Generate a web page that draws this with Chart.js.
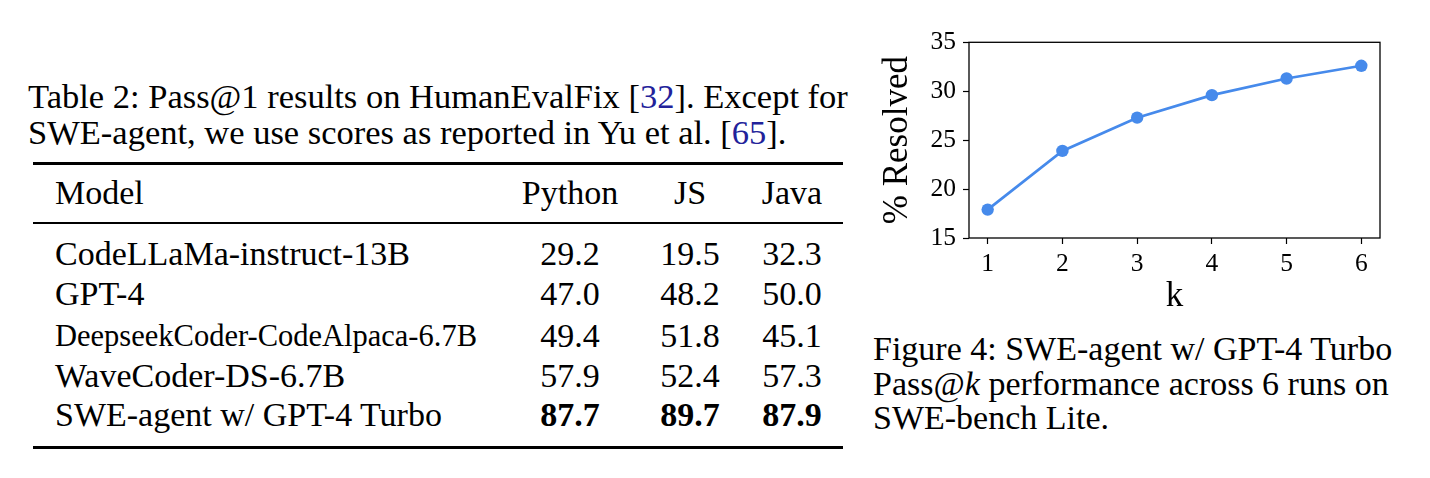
<!DOCTYPE html>
<html>
<head>
<meta charset="utf-8">
<script src="https://cdn.jsdelivr.net/npm/chart.js@4.4.1/dist/chart.umd.min.js"></script>
<style>
  html, body { margin: 0; padding: 0; background: #fff; }
  body { width: 1430px; height: 478px; position: relative; overflow: hidden;
         font-family: "Liberation Serif", "Times New Roman", serif; color: #000; }
  .t { position: absolute; white-space: nowrap; font-size: 34px; line-height: 36px; }
  .cap { font-size: 34.5px; }
  .num { text-align: center; width: 120px; }
  .small { font-size: 30.5px; }
  .rule { position: absolute; left: 33px; width: 810px; background: #000; }
  .cite { color: #22229a; }
  #chartWrap { position: absolute; left: 860px; top: 20px; width: 540px; height: 300px; }
</style>
</head>
<body>

<div class="t cap" style="left:28px; top:78px;">Table 2: Pass@1 results on HumanEvalFix [<span class="cite">32</span>]. Except for</div>
<div class="t cap" style="left:28px; top:114px;">SWE-agent, we use scores as reported in Yu et al. [<span class="cite">65</span>].</div>

<div class="rule" style="top:162px; height:2.5px;"></div>
<div class="rule" style="top:222px; height:1.5px;"></div>
<div class="rule" style="top:446px; height:2.5px;"></div>

<div id="table"></div>

<div class="t" style="left:873px; top:331px;">Figure 4: SWE-agent w/ GPT-4 Turbo</div>
<div class="t" style="left:873px; top:366px;">Pass@<i>k</i> performance across 6 runs on</div>
<div class="t" style="left:873px; top:400px;">SWE-bench Lite.</div>

<div id="chartWrap"><canvas id="passAtK" width="540" height="300"></canvas></div>

<script>
// table data
const columns = ['Python', 'JS', 'Java'];
const models = ['CodeLLaMa-instruct-13B', 'GPT-4', 'DeepseekCoder-CodeAlpaca-6.7B', 'WaveCoder-DS-6.7B', 'SWE-agent w/ GPT-4 Turbo'];
const pythonScores = ['29.2', '47.0', '49.4', '57.9', '87.7'];
const jsScores = ['19.5', '48.2', '51.8', '52.4', '89.7'];
const javaScores = ['32.3', '50.0', '45.1', '57.3', '87.9'];

// chart data
const kValues = [1, 2, 3, 4, 5, 6];
const resolved = [17.9, 23.9, 27.3, 29.6, 31.3, 32.6];
const yTicks = [15, 20, 25, 30, 35];

// table layout
const colCenters = [570, 690, 792];
const headerY = 193;
const rowYs = [254, 294, 336, 376, 415];

function addText(html, left, centerY, cls) {
    const d = document.createElement('div');
    d.className = 't ' + (cls || '');
    d.innerHTML = html;
    d.style.left = left + 'px';
    d.style.top = (centerY - 18) + 'px';
    document.getElementById('table').appendChild(d);
}

addText('Model', 55, headerY);
columns.forEach((c, i) => addText(c, colCenters[i] - 60, headerY, 'num'));

const scoreCols = [pythonScores, jsScores, javaScores];
models.forEach((m, r) => {
    const last = r === models.length - 1;
    addText(m, 55, rowYs[r], m.length > 26 ? 'small' : '');
    scoreCols.forEach((col, i) => {
        const v = last ? '<b>' + col[r] + '</b>' : col[r];
        addText(v, colCenters[i] - 60, rowYs[r], 'num');
    });
});

// box around the plot like matplotlib spines
const frame = {
    id: 'frame',
    afterDatasetsDraw(chart) {
        const a = chart.chartArea;
        const ctx = chart.ctx;
        ctx.save();
        ctx.strokeStyle = '#000';
        ctx.lineWidth = 1.3;
        ctx.strokeRect(a.left, a.top, a.right - a.left, a.bottom - a.top);
        ctx.restore();
    }
};

const blue = 'rgb(70,138,235)';
const tickFont = { family: 'Liberation Serif', size: 25.5 };
const titleFont = { family: 'Liberation Serif', size: 35 };

new Chart(document.getElementById('passAtK'), {
    type: 'line',
    data: {
        datasets: [{
            data: kValues.map((k, i) => ({ x: k, y: resolved[i] })),
            borderColor: blue,
            backgroundColor: blue,
            borderWidth: 2.7,
            pointRadius: 6.2,
            pointBorderWidth: 0,
            pointBackgroundColor: blue,
            fill: false,
            tension: 0
        }]
    },
    options: {
        responsive: false,
        animation: false,
        layout: { padding: { top: 14, right: 20, bottom: 0, left: 0 } },
        plugins: { legend: { display: false }, tooltip: { enabled: false } },
        scales: {
            x: {
                type: 'linear',
                min: 0.75,
                max: 6.25,
                afterBuildTicks: axis => { axis.ticks = kValues.map(v => ({ value: v })); },
                afterFit: axis => { axis.height = 82; },
                border: { display: false },
                grid: { drawOnChartArea: false, drawTicks: true, tickLength: 6, tickColor: '#000', tickWidth: 1.2 },
                ticks: { color: '#000', font: tickFont, padding: 5, maxRotation: 0 },
                title: { display: true, text: 'k', color: '#000', font: titleFont, padding: { top: 0, bottom: 2 } }
            },
            y: {
                min: 15,
                max: 35,
                afterBuildTicks: axis => { axis.ticks = yTicks.map(v => ({ value: v })); },
                afterFit: axis => { axis.width = 109; },
                border: { display: false },
                grid: { drawOnChartArea: false, drawTicks: true, tickLength: 6, tickColor: '#000', tickWidth: 1.2 },
                ticks: { color: '#000', font: tickFont, padding: 7 },
                title: { display: true, text: '% Resolved', color: '#000', font: titleFont, padding: { top: 17, bottom: 0 } }
            }
        }
    },
    plugins: [frame]
});
</script>
</body>
</html>
